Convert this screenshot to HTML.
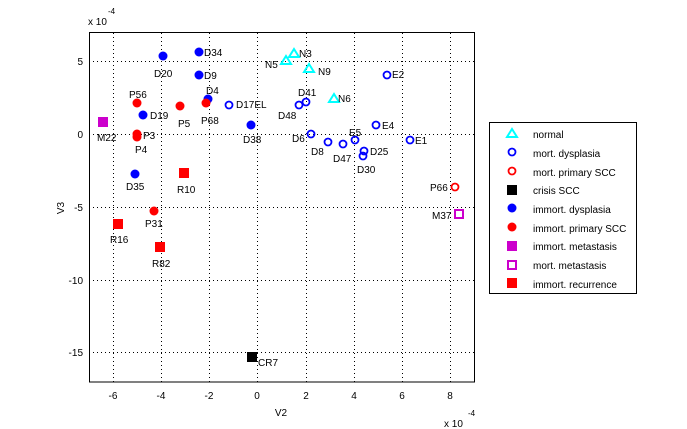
<!DOCTYPE html>
<html><head><style>body{margin:0;background:#fff}svg{display:block;font-family:"Liberation Sans",sans-serif}</style></head><body>
<svg width="687" height="429" xmlns="http://www.w3.org/2000/svg">
<rect width="687" height="429" fill="#fff"/>
<g stroke="#000" stroke-width="1" stroke-dasharray="1,3">
<line x1="113.5" y1="33" x2="113.5" y2="382"/><line x1="161.5" y1="33" x2="161.5" y2="382"/><line x1="209.5" y1="33" x2="209.5" y2="382"/><line x1="257.5" y1="33" x2="257.5" y2="382"/><line x1="306.5" y1="33" x2="306.5" y2="382"/><line x1="354.5" y1="33" x2="354.5" y2="382"/><line x1="402.5" y1="33" x2="402.5" y2="382"/><line x1="450.5" y1="33" x2="450.5" y2="382"/>
<line x1="89" y1="61.5" x2="475" y2="61.5"/><line x1="89" y1="134.5" x2="475" y2="134.5"/><line x1="89" y1="207.5" x2="475" y2="207.5"/><line x1="89" y1="280.5" x2="475" y2="280.5"/><line x1="89" y1="352.5" x2="475" y2="352.5"/>
</g>
<rect x="89.5" y="32.5" width="385" height="349.5" fill="none" stroke="#000"/>
<g font-size="10" text-anchor="middle" fill="#000">
<text x="113" y="399">-6</text><text x="161" y="399">-4</text><text x="209" y="399">-2</text><text x="257" y="399">0</text><text x="306" y="399">2</text><text x="354" y="399">4</text><text x="402" y="399">6</text><text x="450" y="399">8</text>
<text x="281" y="416">V2</text>
</g>
<g font-size="10" text-anchor="end">
<text x="83" y="65">5</text><text x="83" y="138">0</text><text x="83" y="211">-5</text><text x="83" y="284">-10</text><text x="83" y="356">-15</text>
</g>
<text x="64" y="208" font-size="10" text-anchor="middle" transform="rotate(-90 64 208)">V3</text>
<text x="88" y="25" font-size="10">x 10</text><text x="108" y="14" font-size="8">-4</text>
<text x="444" y="427" font-size="10">x 10</text><text x="468" y="416" font-size="8">-4</text>
<!-- triangles -->
<g fill="none" stroke="#0ff" stroke-width="2">
<path d="M294,49 L299,57 L289,57Z"/><path d="M286,56 L291,64 L281,64Z"/><path d="M309,64 L314,72 L304,72Z"/><path d="M334,94 L339,102 L329,102Z"/>
</g>
<g fill="none" stroke="#00f" stroke-width="1.8">
<circle cx="387" cy="75" r="3.5"/><circle cx="306" cy="102" r="3.5"/><circle cx="299" cy="105" r="3.5"/><circle cx="229" cy="105" r="3.5"/><circle cx="376" cy="125" r="3.5"/><circle cx="311" cy="134" r="3.5"/><circle cx="328" cy="142" r="3.5"/><circle cx="343" cy="144" r="3.5"/><circle cx="355" cy="140" r="3.5"/><circle cx="364" cy="151" r="3.5"/><circle cx="363" cy="156" r="3.5"/><circle cx="410" cy="140" r="3.5"/>
</g>
<circle cx="455" cy="187" r="3.5" fill="none" stroke="#f00" stroke-width="1.8"/>
<rect x="247" y="352" width="10" height="10" fill="#000"/>
<g fill="#00f">
<circle cx="163" cy="56" r="4.5"/><circle cx="199" cy="52" r="4.5"/><circle cx="199" cy="75" r="4.5"/><circle cx="208" cy="99" r="4.5"/><circle cx="143" cy="115" r="4.5"/><circle cx="251" cy="125" r="4.5"/><circle cx="135" cy="174" r="4.5"/>
</g>
<g fill="#f00">
<circle cx="137" cy="103" r="4.5"/><circle cx="180" cy="106" r="4.5"/><circle cx="206" cy="103" r="4.5"/><circle cx="137" cy="134" r="4.5"/><circle cx="137" cy="137" r="4.5"/><circle cx="154" cy="211" r="4.5"/>
<rect x="179" y="168" width="10" height="10"/><rect x="113" y="219" width="10" height="10"/><rect x="155" y="242" width="10" height="10"/>
</g>
<rect x="98" y="117" width="10" height="10" fill="#c0c"/>
<rect x="455" y="210" width="8" height="8" fill="none" stroke="#c0c" stroke-width="2"/>
<g font-size="10">
<text x="299" y="57">N3</text><text x="265" y="68">N5</text><text x="318" y="75">N9</text><text x="338" y="102">N6</text>
<text x="392" y="78">E2</text><text x="298" y="96">D41</text><text x="278" y="119">D48</text><text x="236" y="108">D17EL</text>
<text x="382" y="129">E4</text><text x="292" y="142">D6</text><text x="311" y="155">D8</text><text x="333" y="162">D47</text><text x="349" y="136">E5</text><text x="370" y="155">D25</text><text x="357" y="173">D30</text><text x="415" y="144">E1</text>
<text x="204" y="56">D34</text><text x="154" y="77">D20</text><text x="204" y="79">D9</text><text x="206" y="94">D4</text><text x="129" y="98">P56</text><text x="150" y="119">D19</text><text x="178" y="127">P5</text><text x="201" y="124">P68</text>
<text x="97" y="141">M22</text><text x="143" y="139">P3</text><text x="135" y="153">P4</text><text x="243" y="143">D38</text>
<text x="126" y="190">D35</text><text x="177" y="193">R10</text><text x="145" y="227">P31</text><text x="110" y="243">R16</text><text x="152" y="267">R82</text>
<text x="258" y="366">CR7</text><text x="430" y="191">P66</text><text x="432" y="219">M37</text>
</g>
<!-- legend -->
<rect x="489.5" y="122.5" width="147" height="171" fill="#fff" stroke="#000"/>
<g font-size="10">
<text x="533" y="138">normal</text><text x="533" y="157">mort. dysplasia</text><text x="533" y="176">mort. primary SCC</text><text x="533" y="194">crisis SCC</text><text x="533" y="213">immort. dysplasia</text><text x="533" y="232">immort. primary SCC</text><text x="533" y="250">immort. metastasis</text><text x="533" y="269">mort. metastasis</text><text x="533" y="288">immort. recurrence</text>
</g>
<path d="M512,129 L517,137 L507,137Z" fill="none" stroke="#0ff" stroke-width="2"/>
<circle cx="512" cy="152" r="3.5" fill="none" stroke="#00f" stroke-width="1.8"/>
<circle cx="512" cy="171" r="3.5" fill="none" stroke="#f00" stroke-width="1.8"/>
<rect x="507" y="185" width="10" height="10" fill="#000"/>
<circle cx="512" cy="208" r="4.5" fill="#00f"/>
<circle cx="512" cy="227" r="4.5" fill="#f00"/>
<rect x="507" y="241" width="10" height="10" fill="#c0c"/>
<rect x="508" y="261" width="8" height="8" fill="none" stroke="#c0c" stroke-width="2"/>
<rect x="507" y="278" width="10" height="10" fill="#f00"/>
</svg>
</body></html>
